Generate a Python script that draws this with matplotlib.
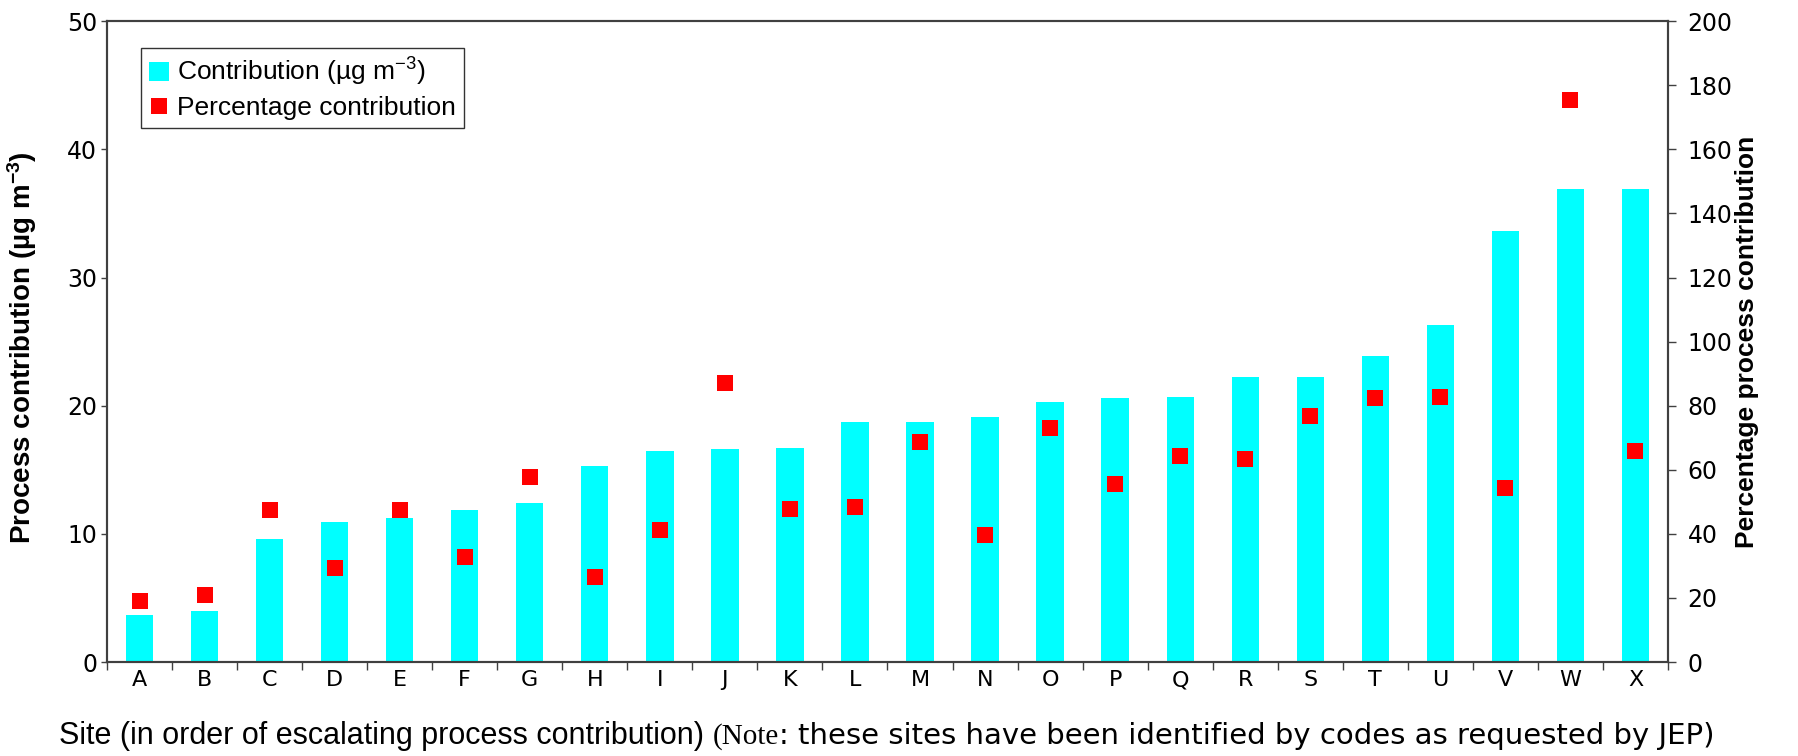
import matplotlib
matplotlib.use("Agg")
import matplotlib.pyplot as plt
from matplotlib.ticker import FixedLocator

"""
Process contribution per site, bars (left axis) and percentage markers (right axis)
"""

sites = list("ABCDEFGHIJKLMNOPQRSTUVWX")
contribution = [3.7, 4.0, 9.6, 10.9, 11.2, 11.9, 12.4, 15.3, 16.5, 16.6, 16.7, 18.7,
                18.7, 19.1, 20.3, 20.6, 20.7, 22.2, 22.2, 23.9, 26.3, 33.6, 36.9, 36.9]
percentage = [19.2, 20.8, 47.6, 29.5, 47.3, 32.9, 57.6, 26.6, 41.1, 87.0, 47.7, 48.5,
              68.7, 39.6, 72.9, 55.6, 64.3, 63.5, 76.7, 82.5, 82.7, 54.3, 175.5, 65.8]
left_ticks = [0, 10, 20, 30, 40, 50]
right_ticks = [0, 20, 40, 60, 80, 100, 120, 140, 160, 180, 200]

plt.rcParams['mathtext.default'] = 'regular'
spine_col = '#404040'

fig = plt.figure(figsize=(17.98, 7.56), dpi=100)
ax = fig.add_axes([0.0595, 0.1243, 0.8682, 0.8477])
ax2 = ax.twinx()

x = list(range(len(sites)))
bars = ax.bar(x, contribution, width=0.42, color='#00FFFF', zorder=2,
              label='Contribution (µg m$^{-3}$)')
pts, = ax2.plot(x, percentage, linestyle='none', marker='s', markersize=11,
                color='#FF0000', markeredgewidth=0, label='Percentage contribution')

#axes limits and ticks
ax.set_xlim(-0.5, len(sites) - 0.5)
ax.set_ylim(0, 50)
ax2.set_ylim(0, 200)
ax.set_yticks(left_ticks)
ax2.set_yticks(right_ticks)
ax.set_xticks(x)
ax.set_xticklabels(sites)
ax.xaxis.set_minor_locator(FixedLocator([i - 0.5 for i in range(len(sites) + 1)]))
ax.tick_params(axis='x', which='major', length=0, pad=6, labelsize=16)
ax.tick_params(axis='x', which='minor', length=6, width=1, color=spine_col, direction='out')
ax.tick_params(axis='y', length=4, width=1, color=spine_col, labelsize=17, pad=3)
ax2.tick_params(axis='y', length=6, width=1, color=spine_col, labelsize=17, pad=8)
for lab in ax.get_xticklabels() + ax.get_yticklabels() + ax2.get_yticklabels():
    lab.set_fontfamily('DejaVu Sans')

for a in (ax, ax2):
    for s in a.spines.values():
        s.set_color(spine_col)
        s.set_linewidth(1.5)

#axis labels
ax.set_ylabel('Process contribution (µg m$^{-3}$)', fontsize=20, fontweight='bold',
              fontfamily='Liberation Sans')
ax.yaxis.set_label_coords(-0.0436, 0.49)
ax2.set_ylabel('Percentage process contribution', fontsize=19, fontweight='bold',
               fontfamily='Liberation Sans', rotation=90)
ax2.yaxis.set_label_coords(1.043, 0.5)

#legend
leg = ax.legend([bars, pts], [bars.get_label(), pts.get_label()], loc='upper left',
                bbox_to_anchor=(0.022, 0.958), frameon=True, fancybox=False,
                prop={'family': 'Liberation Sans', 'size': 19}, handlelength=0.75,
                handleheight=0.75, handletextpad=0.3, borderpad=0.3, labelspacing=0.3,
                borderaxespad=0)
leg.get_frame().set_edgecolor('black')
leg.get_frame().set_linewidth(1.0)
leg.legend_handles[1].set_markersize(12)

#x label in three fonts, placed one after another
pieces = [('Site (in order of escalating process contribution) ', 'Liberation Sans', 22),
          ('(Note', 'Liberation Serif', 21),
          (': these sites have been identified by codes as requested by JEP)', 'DejaVu Sans', 21)]
renderer = fig.canvas.get_renderer()
texts = []
for s, fam, size in pieces:
    texts.append(fig.text(0, 0.016, s, fontsize=size, family=fam, va='baseline', ha='left'))
widths = [t.get_window_extent(renderer).width for t in texts]
total = sum(widths)
start = (887 - total / 2) / 1798.0
for t, w in zip(texts, widths):
    t.set_x(start)
    start += w / 1798.0

fig.savefig('out.png', dpi=100)
